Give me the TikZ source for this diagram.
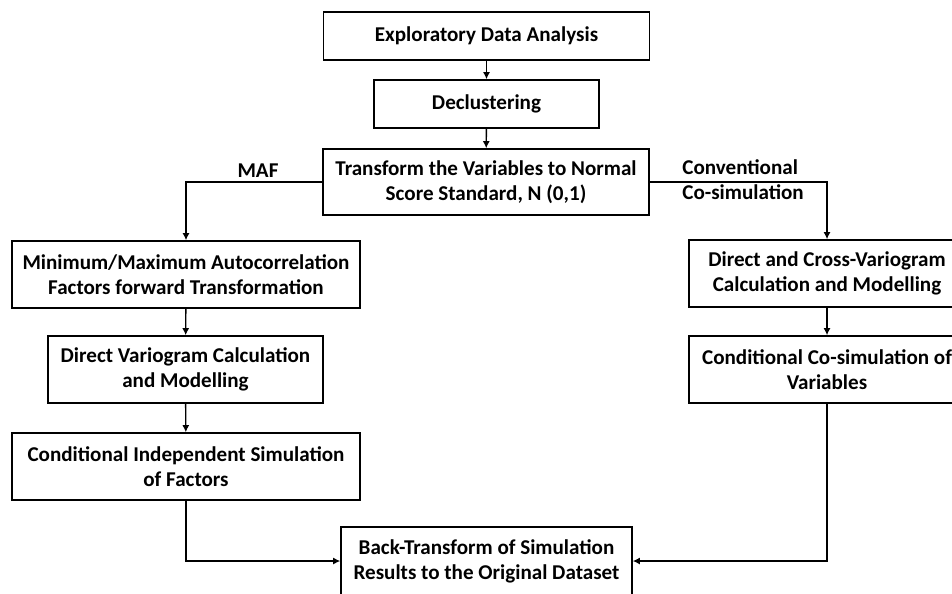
\documentclass[tikz,border=0pt]{standalone}
\usepackage{fontspec}
\setmainfont{Carlito}
\usetikzlibrary{arrows.meta,positioning}

\begin{document}
\begin{tikzpicture}[x=0.02cm, y=-0.02cm, every node/.style={font=\bfseries\fontsize{12}{14.2}\selectfont},
  bx/.style={draw, line width=0.9pt, align=center, inner sep=0pt, minimum height=1.34cm},
  ar/.style={-{Latex[length=4pt,width=4pt]}, line width=0.8pt}]
\useasboundingbox (0,0) rectangle (952,593);
\clip (0,0) rectangle (952,593);
% Flow
\node[bx, minimum width=6.52cm, minimum height=0.96cm] (eda) at (486.5,36) {Exploratory Data Analysis};
\node[bx, minimum width=4.5cm, minimum height=0.96cm] (decl) at (486.5,104) {Declustering};
\node[bx, minimum width=6.52cm, minimum height=1.32cm] (nscore) at (486,182) {Transform the Variables to Normal\\Score Standard, N (0,1)};
% MAF branch
\node[bx, minimum width=6.96cm] (maf) at (186,274.5) {Minimum/Maximum Autocorrelation\\Factors forward Transformation};
\node[bx, minimum width=5.5cm] (dvar) at (185.5,369.5) {Direct Variogram Calculation\\and Modelling};
\node[bx, minimum width=6.96cm] (isim) at (186,466.5) {Conditional Independent Simulation\\of Factors};
% Co-simulation branch
\node[bx, minimum width=5.52cm] (xvar) at (827,273.5) {Direct and Cross-Variogram\\Calculation and Modelling};
\node[bx, minimum width=5.52cm] (cosim) at (827,369.5) {Conditional Co-simulation of\\Variables};
% Result
\node[bx, minimum width=5.82cm, minimum height=1.36cm] (back) at (486.5,561) {Back-Transform of Simulation\\Results to the Original Dataset};
% Arrows
\draw[ar] (eda) -- (decl);
\draw[ar] (decl) -- (nscore);
\draw[ar] (nscore.west) -| (maf.north);
\draw[ar] (nscore.east) -| (xvar.north);
\draw[ar] (maf) -- (dvar);
\draw[ar] (dvar) -- (isim);
\draw[ar] (xvar) -- (cosim);
\draw[ar] (isim.south) |- (back.west);
\draw[ar] (cosim.south) |- (back.east);
% Branch labels
\node (maflbl) at (258,171) {MAF};
\node[align=left, anchor=west, inner sep=0pt] (convlbl) at (682,180) {Conventional\\Co-simulation};
\end{tikzpicture}
\end{document}
